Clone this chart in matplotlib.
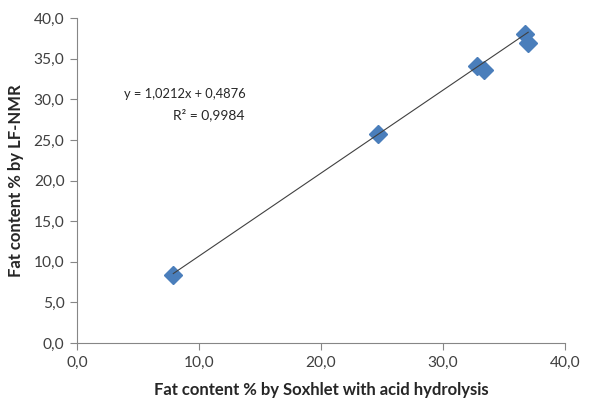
import numpy as np
import matplotlib.pyplot as plt
from matplotlib.ticker import FuncFormatter

# Soxhlet (acid hydrolysis) vs LF-NMR fat content, %
soxhlet = [7.9, 24.7, 32.8, 33.4, 36.7, 37.0]
lf_nmr = [8.4, 25.8, 34.1, 33.6, 38.0, 37.0]

# linear trendline as reported
slope = 1.0212
intercept = 0.4876
r2 = 0.9984

plt.rcParams['font.family'] = ['Lato', 'DejaVu Sans']

fig = plt.figure(figsize=(5.92, 4.01), dpi=100)
ax = fig.add_axes([0.130, 0.1446, 0.824, 0.81])

ax.plot(soxhlet, lf_nmr, linestyle='none', marker='D', markersize=9.5,
        color='#4A7EBB', markeredgecolor='#4A7EBB', zorder=2)

xs = np.array([min(soxhlet), max(soxhlet)])
ax.plot(xs, slope * xs + intercept, color='#404040', linewidth=0.8, zorder=3)

eq = 'y = ' + f'{slope:.4f}'.replace('.', ',') + 'x + ' + f'{intercept:.4f}'.replace('.', ',')
r2txt = 'R² = ' + f'{r2:.4f}'.replace('.', ',')
ax.text(13.8, 31.4, eq, ha='right', va='top', fontsize=9.3, color='#262626')
ax.text(13.7, 28.9, r2txt, ha='right', va='top', fontsize=10, color='#262626')

ax.set_xlim(0, 40)
ax.set_ylim(0, 40)
ax.set_xticks(np.arange(0, 41, 10))
ax.set_yticks(np.arange(0, 41, 5))
fmt = FuncFormatter(lambda v, p: f'{v:.1f}'.replace('.', ','))
ax.xaxis.set_major_formatter(fmt)
ax.yaxis.set_major_formatter(fmt)

for s in ['top', 'right']:
    ax.spines[s].set_visible(False)
for s in ['left', 'bottom']:
    ax.spines[s].set_color('#868686')
    ax.spines[s].set_linewidth(0.8)
ax.tick_params(direction='out', length=5, width=0.8, color='#868686',
               labelsize=11.2, labelcolor='#404040', pad=4)

ax.set_xlabel('Fat content % by Soxhlet with acid hydrolysis', fontsize=12,
              fontweight='bold', color='#262626', labelpad=9)
ax.set_ylabel('Fat content % by LF-NMR', fontsize=12, fontweight='bold',
              color='#262626', labelpad=7)

fig.savefig('out.png', dpi=100)
